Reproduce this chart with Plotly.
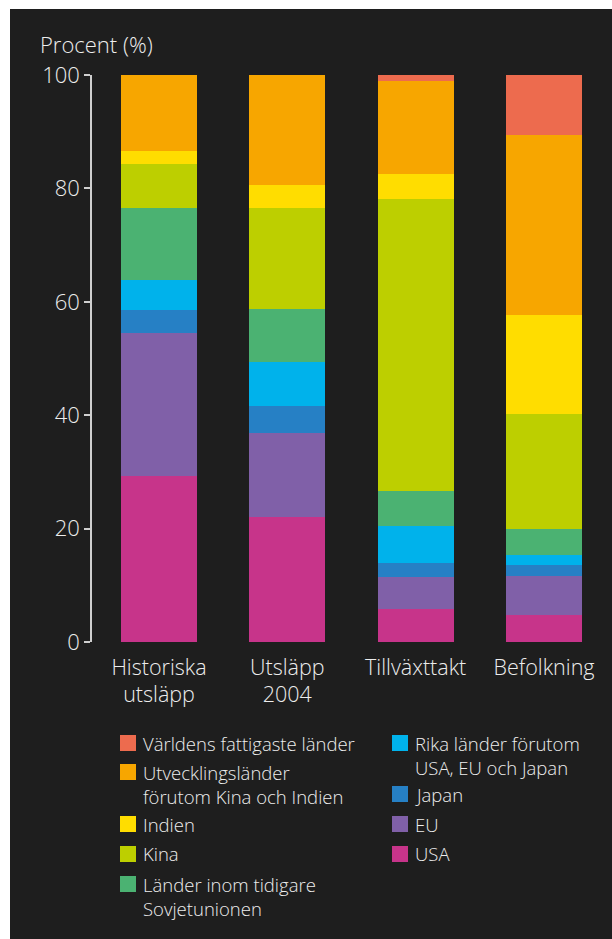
import plotly.graph_objects as go

# ---------------- data ----------------
categories = ["Historiska<br>utsläpp", "Utsläpp<br>2004", "Tillväxttakt", "Befolkning"]

usa = [29.2, 22.0, 5.9, 4.7]
eu = [25.3, 14.8, 5.5, 6.9]
japan = [4.1, 4.9, 2.6, 1.9]
rika = [5.3, 7.7, 6.4, 1.9]
sovjet = [12.7, 9.4, 6.3, 4.6]
kina = [7.7, 17.8, 51.5, 20.3]
indien = [2.3, 4.0, 4.4, 17.4]
utvecklingslander = [13.4, 19.4, 16.3, 31.7]
fattigaste = [0.0, 0.0, 1.1, 10.6]

series_names = [
    "USA", "EU", "Japan",
    "Rika länder förutom USA, EU och Japan",
    "Länder inom tidigare Sovjetunionen",
    "Kina", "Indien",
    "Utvecklingsländer förutom Kina och Indien",
    "Världens fattigaste länder",
]
series_values = [usa, eu, japan, rika, sovjet, kina, indien, utvecklingslander, fattigaste]
series_colors = ["#C7348A", "#8060A8", "#2680C5", "#00B2EB", "#4BB272",
                 "#BDCF00", "#FFDD00", "#F7A600", "#ED6B4E"]

legend_labels = {
    "Världens fattigaste länder": "Världens fattigaste länder",
    "Utvecklingsländer förutom Kina och Indien": "Utvecklingsländer<br>förutom Kina och Indien",
    "Indien": "Indien",
    "Kina": "Kina",
    "Länder inom tidigare Sovjetunionen": "Länder inom tidigare<br>Sovjetunionen",
    "Rika länder förutom USA, EU och Japan": "Rika länder förutom<br>USA, EU och Japan",
    "Japan": "Japan",
    "EU": "EU",
    "USA": "USA",
}
y_title = "Procent (%)"

# ---------------- layout geometry (pixels) ----------------
W, H = 612, 939
L, T, B = 92, 75, 642
PW, PH = W - L, B - T
BG = "#1E1E1E"
TXT = "#EDEDED"
FONT = "Open Sans"
WEIGHT = 300


def px(x):
    return (x - L) / PW


def py(y):
    return (B - y) / PH


fig = go.Figure()
for name, vals, col in zip(series_names, series_values, series_colors):
    fig.add_trace(go.Bar(x=categories, y=vals, name=name,
                         marker=dict(color=col, line=dict(width=0)),
                         showlegend=False))

# category step 128.33 px, first center at 159 px
step = 128.33
x0 = -(159 - L) / step
x1 = x0 + PW / step

fig.update_layout(
    width=W, height=H,
    margin=dict(l=L, r=0, t=T, b=H - B, pad=0),
    barmode="stack", bargap=1 - 76 / step,
    paper_bgcolor="white", plot_bgcolor=BG,
    font=dict(family=FONT, color=TXT, size=18, weight=WEIGHT),
    xaxis=dict(range=[x0, x1], showgrid=False, zeroline=False, showline=False,
               ticks="", ticklabelstandoff=10,
               tickfont=dict(size=21.5, color=TXT, family=FONT, weight=WEIGHT),
               fixedrange=True),
    yaxis=dict(range=[0, 100], tickvals=[0, 20, 40, 60, 80, 100],
               showgrid=False, zeroline=False, showline=True,
               linecolor="#CFCFCF", linewidth=1.5,
               ticks="outside", ticklen=6, tickwidth=1.5, tickcolor="#CFCFCF",
               tickfont=dict(size=22, color=TXT, family=FONT, weight=WEIGHT),
               fixedrange=True),
)

shapes = [dict(type="rect", xref="paper", yref="paper",
               x0=px(10), x1=px(W + 2), y0=py(9), y1=py(H + 2),
               fillcolor=BG, line=dict(width=0), layer="below")]
annotations = [dict(text=y_title, xref="paper", yref="paper",
                    x=px(39), y=py(44.5), xanchor="left", yanchor="middle",
                    showarrow=False, borderpad=0,
                    font=dict(size=22, color=TXT, family=FONT, weight=WEIGHT))]

# custom two-column legend
left_col = ["Världens fattigaste länder",
            "Utvecklingsländer förutom Kina och Indien",
            "Indien", "Kina", "Länder inom tidigare Sovjetunionen"]
right_col = ["Rika länder förutom USA, EU och Japan", "Japan", "EU", "USA"]
left_tops = [735, 764, 816, 846, 876]
right_tops = [735, 786, 816, 846]
color_of = dict(zip(series_names, series_colors))
for col_names, tops, sx in ((left_col, left_tops, 120), (right_col, right_tops, 392)):
    for nm, top in zip(col_names, tops):
        shapes.append(dict(type="rect", xref="paper", yref="paper",
                           x0=px(sx), x1=px(sx + 16), y0=py(top + 16), y1=py(top),
                           fillcolor=color_of[nm], line=dict(width=0)))
        annotations.append(dict(text=legend_labels[nm], xref="paper", yref="paper",
                                x=px(sx + 21), y=py(top - 6.5),
                                xanchor="left", yanchor="top", align="left",
                                showarrow=False,
                                font=dict(size=18.5, color=TXT, family=FONT, weight=WEIGHT)))

fig.update_layout(shapes=shapes, annotations=annotations)
fig.write_html("out.html")
